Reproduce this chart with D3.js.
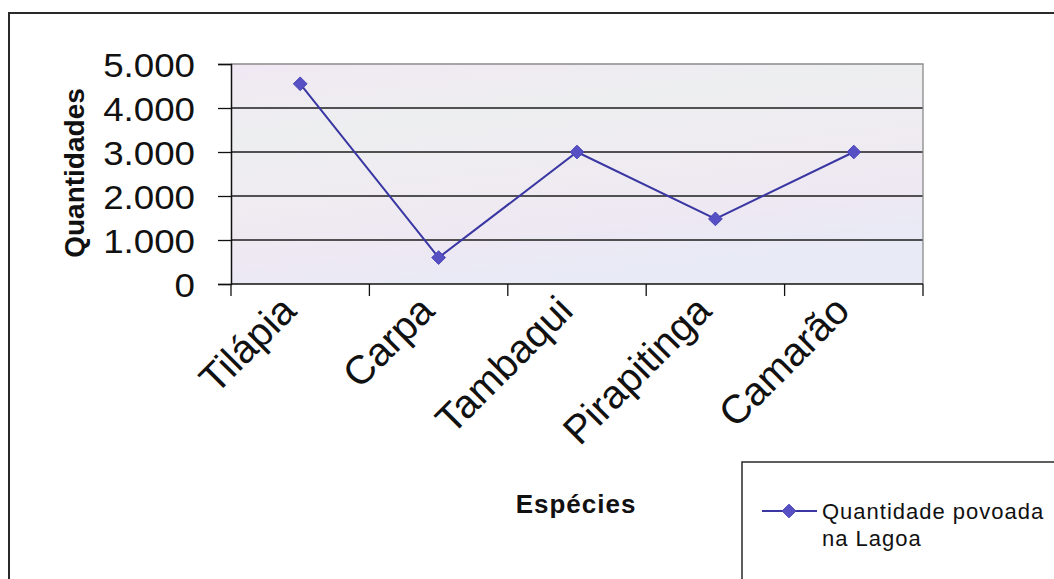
<!DOCTYPE html>
<html>
<head>
<meta charset="utf-8">
<script src="https://cdn.jsdelivr.net/npm/d3@7"></script>
<style>
  html, body { margin: 0; padding: 0; background: #ffffff; }
  svg { display: block; }
  text { font-family: "Liberation Sans", Arial, sans-serif; fill: #111; }
</style>
</head>
<body>
<svg id="chart" width="1054" height="579"></svg>
<script>
// Species stocked in the lagoon and their quantities
const categories = ["Tilápia", "Carpa", "Tambaqui", "Pirapitinga", "Camarão"];
const values = [4550, 600, 3000, 1480, 3000];
const yTicks = [0, 1000, 2000, 3000, 4000, 5000];
const yTickLabels = ["0", "1.000", "2.000", "3.000", "4.000", "5.000"];
const seriesName = ["Quantidade povoada", "na Lagoa"];
const xTitle = "Espécies";
const yTitle = "Quantidades";

const svg = d3.select("#chart");
const W = 1054, H = 579;
const plot = { left: 231, right: 923, top: 64, bottom: 284 };
const lineColor = "#3a37a3";
const markerColor = "#5650c4";

const defs = svg.append("defs");
const grad = defs.append("linearGradient")
  .attr("id", "plotBg").attr("x1", "0").attr("y1", "0").attr("x2", "0.35").attr("y2", "1");
[["0%", "#f1e8f3"], ["30%", "#edeef0"], ["55%", "#efecf1"], ["80%", "#eee8f2"], ["100%", "#e8eaf6"]]
  .forEach(([o, c]) => grad.append("stop").attr("offset", o).attr("stop-color", c));

// Outer chart frame (runs off the right and bottom edges)
svg.append("path")
  .attr("d", `M${W + 5},13 L9,13 L9,${H + 5}`)
  .attr("fill", "none").attr("stroke", "#2a2a2a").attr("stroke-width", 2);

const x = d3.scaleBand().domain(categories).range([plot.left, plot.right]).padding(0);
const y = d3.scaleLinear().domain([0, 5000]).range([plot.bottom, plot.top]);

// Plot area background
svg.append("rect")
  .attr("x", plot.left).attr("y", plot.top)
  .attr("width", plot.right - plot.left).attr("height", plot.bottom - plot.top)
  .attr("fill", "url(#plotBg)");

// Horizontal gridlines
svg.append("g").selectAll("line")
  .data(yTicks.filter(t => t > 0 && t < 5000))
  .join("line")
  .attr("x1", plot.left).attr("x2", plot.right)
  .attr("y1", d => y(d)).attr("y2", d => y(d))
  .attr("stroke", "#1c1c1c").attr("stroke-width", 1.3);

// Top and right plot border
svg.append("path")
  .attr("d", `M${plot.left},${y(5000)} L${plot.right},${y(5000)} L${plot.right},${plot.bottom}`)
  .attr("fill", "none").attr("stroke", "#8a8a8a").attr("stroke-width", 1.3);

// Y axis
const yAxis = d3.axisLeft(y).tickValues(yTicks).tickSize(13)
  .tickFormat((d, i) => yTickLabels[i]).tickPadding(0);
const gy = svg.append("g").attr("transform", `translate(${plot.left},0)`).call(yAxis);
gy.select(".domain").attr("stroke", "#111").attr("stroke-width", 1.5);
gy.selectAll(".tick line").attr("stroke", "#111").attr("stroke-width", 1.3);
gy.selectAll(".tick text")
  .attr("x", null).attr("dy", null)
  .attr("transform", "translate(-36,12) scale(1.08,1)")
  .attr("font-size", 34).attr("font-family", "Liberation Sans, Arial, sans-serif")
  .attr("fill", "#1a1a1a");

// X axis: ticks at category boundaries
const boundaries = categories.map(c => x(c)).concat([plot.right]);
const gx = svg.append("g");
gx.append("line")
  .attr("x1", plot.left).attr("x2", plot.right)
  .attr("y1", plot.bottom).attr("y2", plot.bottom)
  .attr("stroke", "#111").attr("stroke-width", 1.5);
gx.selectAll("line.tick").data(boundaries).join("line")
  .attr("class", "tick")
  .attr("x1", d => d).attr("x2", d => d)
  .attr("y1", plot.bottom).attr("y2", plot.bottom + 12)
  .attr("stroke", "#111").attr("stroke-width", 1.3);
gx.selectAll("text").data(categories).join("text")
  .attr("transform", d => `translate(${x(d) + x.bandwidth() / 2 - 2},${plot.bottom + 29}) rotate(-45)`)
  .attr("text-anchor", "end")
  .attr("font-size", 40)
  .attr("fill", "#1a1a1a")
  .text(d => d);

// Series line and markers
const cx = d => x(d) + x.bandwidth() / 2;
const line = d3.line().x((d, i) => cx(categories[i])).y(d => y(d));
svg.append("path")
  .datum(values)
  .attr("d", line)
  .attr("fill", "none").attr("stroke", lineColor).attr("stroke-width", 2);

const diamond = d3.symbol().type(d3.symbolDiamond2).size(120);
svg.append("g").selectAll("path")
  .data(values)
  .join("path")
  .attr("transform", (d, i) => `translate(${cx(categories[i])},${y(d)})`)
  .attr("d", diamond)
  .attr("fill", markerColor).attr("stroke", "#4a45b5").attr("stroke-width", 1);

// Axis titles
svg.append("text")
  .attr("transform", `translate(84,173) rotate(-90)`)
  .attr("text-anchor", "middle")
  .attr("font-size", 28).attr("font-weight", "bold")
  .text(yTitle);

svg.append("text")
  .attr("x", 576).attr("y", 513)
  .attr("text-anchor", "middle")
  .attr("font-size", 26).attr("font-weight", "bold")
  .attr("letter-spacing", 1)
  .text(xTitle);

// Legend
const lg = svg.append("g");
lg.append("path")
  .attr("d", `M742,${H + 5} L742,462 L${W + 5},462`)
  .attr("fill", "none").attr("stroke", "#2a2a2a").attr("stroke-width", 1.5);
lg.append("line")
  .attr("x1", 762).attr("x2", 817).attr("y1", 511).attr("y2", 511)
  .attr("stroke", lineColor).attr("stroke-width", 2);
lg.append("path")
  .attr("transform", "translate(789,511)")
  .attr("d", diamond)
  .attr("fill", markerColor).attr("stroke", "#4a45b5").attr("stroke-width", 1);
lg.selectAll("text").data(seriesName).join("text")
  .attr("x", 822).attr("y", (d, i) => 519 + i * 27)
  .attr("font-size", 22)
  .attr("letter-spacing", 1)
  .attr("fill", "#1a1a1a")
  .text(d => d);
</script>
</body>
</html>
